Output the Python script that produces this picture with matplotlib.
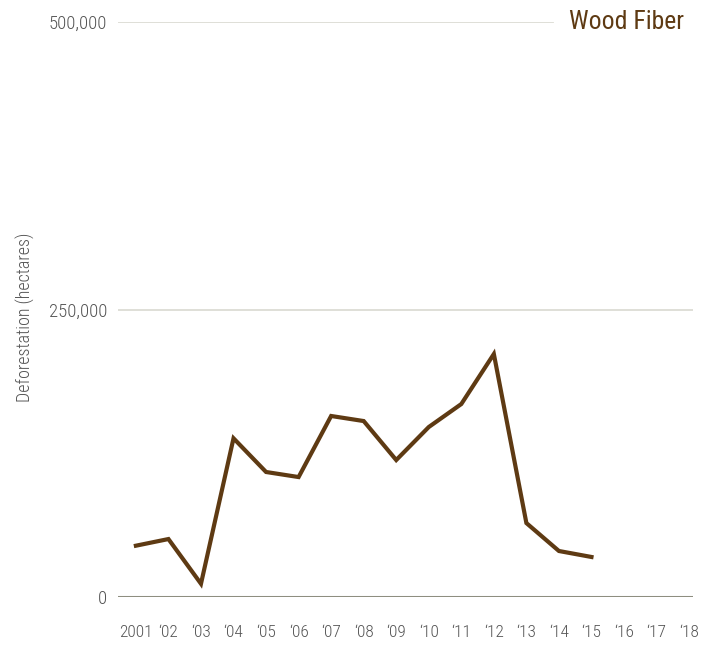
import matplotlib.pyplot as plt
import matplotlib.ticker as ticker

plt.rcParams.update({
    "font.family": ["Roboto Condensed", "DejaVu Sans"],
})

years = list(range(2001, 2016))
deforestation = [44600, 50400, 11500, 138000, 108700, 104300, 157400, 153000,
                 119100, 147800, 167800, 211300, 64300, 40000, 34800]
tick_years = list(range(2001, 2019))
tick_labels = ['2001'] + ["\u2018%02d" % (y % 100) for y in tick_years[1:]]
y_ticks = [0, 250000, 500000]

brown = '#5e3a13'

fig = plt.figure(figsize=(7.08, 6.51), dpi=100)
ax = fig.add_axes([118/708, 54/651, 575/708, 575/651])

# grid lines
ax.axhline(250000, color='#dcdcd4', lw=1.3, zorder=1)
ax.axhline(500000, xmax=(553-118)/575, color='#dcdcd4', lw=1.3, zorder=1)
ax.axhline(0, color='#8e8e80', lw=2.2, zorder=1)

ax.plot(years, deforestation, color=brown, lw=3.0, solid_joinstyle='miter', zorder=3)

ax.set_xlim(2000.45, 2018.12)
ax.set_ylim(0, 500000)
ax.set_xticks(tick_years)
ax.set_xticklabels(tick_labels)
ax.set_yticks(y_ticks)
ax.yaxis.set_major_formatter(ticker.FuncFormatter(lambda v, p: f"{int(v):,}"))
ax.tick_params(axis='both', length=0, labelcolor='#555555')
ax.tick_params(axis='y', pad=8, labelsize=13.5)
ax.tick_params(axis='x', pad=20, labelsize=12.5)
for lab in ax.get_xticklabels() + ax.get_yticklabels():
    lab.set_fontweight('light')
for s in ax.spines.values():
    s.set_visible(False)

fig.text(25/708, 1 - 317/651, 'Deforestation (hectares)', rotation=90,
         ha='center', va='center', fontsize=13, color='#555555', fontweight='light')
fig.text(684/708, 1 - 22/651, 'Wood Fiber', ha='right', va='center',
         fontsize=18.5, color=brown)

plt.savefig('out.png', dpi=100)
